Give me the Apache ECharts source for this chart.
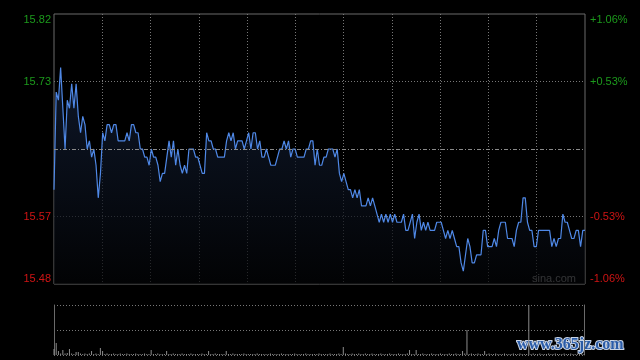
<!DOCTYPE html>
<html style="height: 100%">
<head>
    <meta charset="utf-8">
    <script src="https://cdn.jsdelivr.net/npm/echarts@6/dist/echarts.min.js"></script>
</head>
<body style="height:100%;margin:0;background:#000">
    <div id="main" style="width:640px;height:360px;"></div>
    <script type="text/javascript">

        // 昨收价 & 坐标范围
        var basePrice = 15.65;
        var priceMin = 15.4841;
        var priceMax = 15.8159;

        // 分时价格 (241 个点)
        var prices = [
            15.60, 15.72, 15.71, 15.75, 15.70, 15.65, 15.71, 15.70, 15.73, 15.70,
            15.73, 15.69, 15.67, 15.69, 15.68, 15.65, 15.66, 15.64, 15.65, 15.63,
            15.59, 15.62, 15.67, 15.66, 15.68, 15.68, 15.67, 15.68, 15.68, 15.66,
            15.66, 15.66, 15.66, 15.67, 15.66, 15.68, 15.68, 15.67, 15.67, 15.65,
            15.65, 15.64, 15.64, 15.63, 15.65, 15.64, 15.64, 15.63, 15.61, 15.62,
            15.62, 15.64, 15.66, 15.64, 15.66, 15.63, 15.65, 15.63, 15.62, 15.63,
            15.62, 15.65, 15.65, 15.65, 15.64, 15.64, 15.63, 15.62, 15.62, 15.67,
            15.66, 15.66, 15.65, 15.65, 15.64, 15.64, 15.64, 15.64, 15.66, 15.67,
            15.66, 15.67, 15.65, 15.66, 15.66, 15.66, 15.65, 15.66, 15.67, 15.65,
            15.67, 15.67, 15.65, 15.66, 15.64, 15.64, 15.65, 15.64, 15.63, 15.63,
            15.63, 15.64, 15.65, 15.65, 15.66, 15.65, 15.66, 15.64, 15.65, 15.65,
            15.64, 15.64, 15.64, 15.64, 15.65, 15.65, 15.66, 15.66, 15.63, 15.65,
            15.63, 15.63, 15.64, 15.64, 15.65, 15.65, 15.65, 15.64, 15.65, 15.62,
            15.61, 15.62, 15.61, 15.60, 15.60, 15.59, 15.60, 15.59, 15.60, 15.58,
            15.58, 15.58, 15.59, 15.58, 15.59, 15.58, 15.57, 15.56, 15.57, 15.56,
            15.57, 15.56, 15.57, 15.56, 15.57, 15.56, 15.56, 15.56, 15.57, 15.55,
            15.55, 15.56, 15.57, 15.54, 15.56, 15.57, 15.55, 15.56, 15.55, 15.56,
            15.55, 15.55, 15.55, 15.56, 15.56, 15.56, 15.55, 15.54, 15.55, 15.54,
            15.55, 15.54, 15.53, 15.53, 15.51, 15.50, 15.52, 15.54, 15.53, 15.51,
            15.51, 15.52, 15.52, 15.52, 15.55, 15.55, 15.53, 15.53, 15.53, 15.54,
            15.53, 15.55, 15.56, 15.56, 15.56, 15.54, 15.54, 15.54, 15.53, 15.55,
            15.56, 15.56, 15.59, 15.59, 15.56, 15.55, 15.55, 15.53, 15.53, 15.55,
            15.55, 15.55, 15.55, 15.55, 15.55, 15.53, 15.54, 15.53, 15.54, 15.54,
            15.57, 15.56, 15.56, 15.55, 15.54, 15.54, 15.55, 15.55, 15.53, 15.55,
            15.55
        ];

        // 成交量 (相对值)
        var volumes = [
            12, 24, 8, 3, 10, 3, 4, 12, 3, 2,
            6, 6, 3, 2, 3, 2, 3, 8, 2, 3,
            2, 14, 8, 2, 3, 2, 2, 3, 2, 2,
            3, 2, 2, 3, 2, 2, 2, 3, 2, 2,
            2, 3, 2, 2, 10, 2, 2, 3, 2, 2,
            2, 8, 2, 2, 3, 2, 2, 2, 3, 2,
            2, 2, 3, 2, 2, 2, 2, 3, 2, 2,
            8, 2, 2, 3, 2, 2, 2, 2, 8, 2,
            2, 3, 2, 2, 2, 2, 3, 2, 2, 2,
            2, 2, 3, 2, 2, 2, 2, 2, 3, 2,
            2, 2, 2, 3, 2, 2, 2, 2, 2, 3,
            2, 2, 2, 2, 3, 2, 2, 2, 2, 2,
            3, 2, 2, 2, 2, 3, 2, 2, 2, 3,
            2, 16, 3, 2, 2, 3, 2, 2, 3, 2,
            2, 3, 2, 2, 3, 2, 2, 2, 3, 2,
            2, 2, 3, 2, 2, 2, 3, 2, 2, 2,
            3, 10, 2, 2, 10, 2, 2, 3, 2, 2,
            2, 3, 2, 2, 2, 3, 2, 2, 2, 3,
            2, 2, 3, 2, 2, 8, 3, 50, 2, 3,
            2, 2, 3, 2, 2, 8, 2, 3, 2, 2,
            3, 2, 2, 2, 3, 2, 2, 2, 3, 2,
            2, 3, 2, 2, 2, 100, 2, 3, 2, 2,
            3, 2, 2, 2, 3, 2, 2, 3, 2, 2,
            2, 3, 2, 2, 3, 2, 2, 2, 3, 2,
            2
        ];

        // 时间轴: 9:30-11:30, 13:01-15:00
        var times = [];
        function pushRange(h1, m1, h2, m2) {
            var t = h1 * 60 + m1, end = h2 * 60 + m2;
            for (; t <= end; t++) {
                var mm = t % 60;
                times.push(Math.floor(t / 60) + ':' + (mm < 10 ? '0' + mm : mm));
            }
        }
        pushRange(9, 30, 11, 30);
        pushRange(13, 1, 15, 0);

        var gridColor = '#777';
        var frameColor = '#6a6a6a';
        var clear = 'rgba(0,0,0,0)';
        var labelFont = 'Liberation Sans, Arial, sans-serif';

        // 边框处不画虚线, 只留实线框
        var ySplitColors = [clear, gridColor, gridColor, gridColor, clear];
        var xSplitColors = [clear, gridColor, gridColor, gridColor, gridColor, gridColor,
                            gridColor, gridColor, gridColor, gridColor, gridColor, clear];

        function priceLabel(v) {
            if (Math.abs(v - basePrice) < 0.001) return '';
            var s = v.toFixed(2);
            return v > basePrice ? '{up|' + s + '}' : '{down|' + s + '}';
        }
        function pctLabel(v) {
            if (Math.abs(v - basePrice) < 0.001) return '';
            var p = (v - basePrice) / basePrice * 100;
            var s = (p > 0 ? '+' : '') + p.toFixed(2) + '%';
            return p > 0 ? '{up|' + s + '}' : '{down|' + s + '}';
        }
        var labelRich = {
            up: { color: '#1c9a1c', fontSize: 11, fontFamily: labelFont },
            down: { color: '#d01414', fontSize: 11, fontFamily: labelFont }
        };

        var myChart = echarts.init(document.getElementById('main'));

        var option = {
            backgroundColor: '#000',
            animation: false,
            grid: [
                { left: 54, top: 14, width: 531, height: 270, show: true,
                  borderColor: frameColor, borderWidth: 1, backgroundColor: 'transparent' },
                { left: 54, top: 305, width: 530, height: 50 }
            ],
            xAxis: [
                { type: 'category', gridIndex: 0, data: times, boundaryGap: false,
                  axisLine: { show: false }, axisTick: { show: false },
                  axisLabel: { show: false }, splitLine: { show: false } },
                { type: 'value', gridIndex: 0, min: 0, max: 11, interval: 1,
                  axisLine: { show: false }, axisTick: { show: false },
                  axisLabel: { show: false },
                  splitLine: { show: true, lineStyle: { color: xSplitColors, type: [1, 2], width: 1 } } },
                { type: 'category', gridIndex: 1, data: times, boundaryGap: false,
                  axisLine: { show: false }, axisTick: { show: false },
                  axisLabel: { show: false }, splitLine: { show: false } }
            ],
            yAxis: [
                { type: 'value', gridIndex: 0, min: priceMin, max: priceMax,
                  interval: (priceMax - priceMin) / 4,
                  axisLine: { show: false }, axisTick: { show: false },
                  axisLabel: { margin: 3, formatter: priceLabel, rich: labelRich,
                               verticalAlignMinLabel: 'bottom', verticalAlignMaxLabel: 'top' },
                  splitLine: { show: true, lineStyle: { color: ySplitColors, type: [1, 2], width: 1 } } },
                { type: 'value', gridIndex: 0, position: 'right', min: priceMin, max: priceMax,
                  interval: (priceMax - priceMin) / 4,
                  axisLine: { show: false }, axisTick: { show: false },
                  axisLabel: { margin: 5, formatter: pctLabel, rich: labelRich,
                               verticalAlignMinLabel: 'bottom', verticalAlignMaxLabel: 'top' },
                  splitLine: { show: false } },
                { type: 'value', gridIndex: 1, min: 0, max: 100, interval: 50,
                  axisLine: { show: true, lineStyle: { color: frameColor } },
                  axisTick: { show: false }, axisLabel: { show: false },
                  splitLine: { show: true, lineStyle: { color: gridColor, type: [1, 2], width: 1 } } },
                { type: 'value', gridIndex: 1, position: 'right', min: 0, max: 100,
                  axisLine: { show: true, lineStyle: { color: frameColor } },
                  axisTick: { show: false }, axisLabel: { show: false },
                  splitLine: { show: false } }
            ],
            series: [
                {
                    name: 'price',
                    type: 'line',
                    xAxisIndex: 0,
                    yAxisIndex: 0,
                    data: prices,
                    symbol: 'none',
                    lineStyle: { color: '#4f88e6', width: 1.2 },
                    areaStyle: {
                        origin: 'start',
                        color: new echarts.graphic.LinearGradient(0, 0, 0, 1, [
                            { offset: 0, color: '#14213a' },
                            { offset: 1, color: '#030406' }
                        ])
                    },
                    markLine: {
                        silent: true,
                        symbol: 'none',
                        label: { show: false },
                        lineStyle: { color: '#8a8a8a', type: [4, 2, 1, 2], width: 1 },
                        data: [{ yAxis: basePrice }]
                    },
                    z: 3
                },
                {
                    name: 'volume',
                    type: 'bar',
                    xAxisIndex: 2,
                    yAxisIndex: 2,
                    data: volumes,
                    barWidth: 1,
                    itemStyle: { color: '#8c8c8c' }
                }
            ],
            graphic: [
                { type: 'text', left: 532, top: 273,
                  style: { text: 'sina.com', fill: '#a0a0a0', font: '11px ' + labelFont } },
                { type: 'text', left: 516, top: 336,
                  style: { text: 'www.365jz.com', fill: '#2b5ca8', stroke: '#c8d4e6', lineWidth: 2,
                           font: 'bold 16px Liberation Serif, serif' } }
            ]
        };
        myChart.setOption(option);
    </script>
</body>
</html>
